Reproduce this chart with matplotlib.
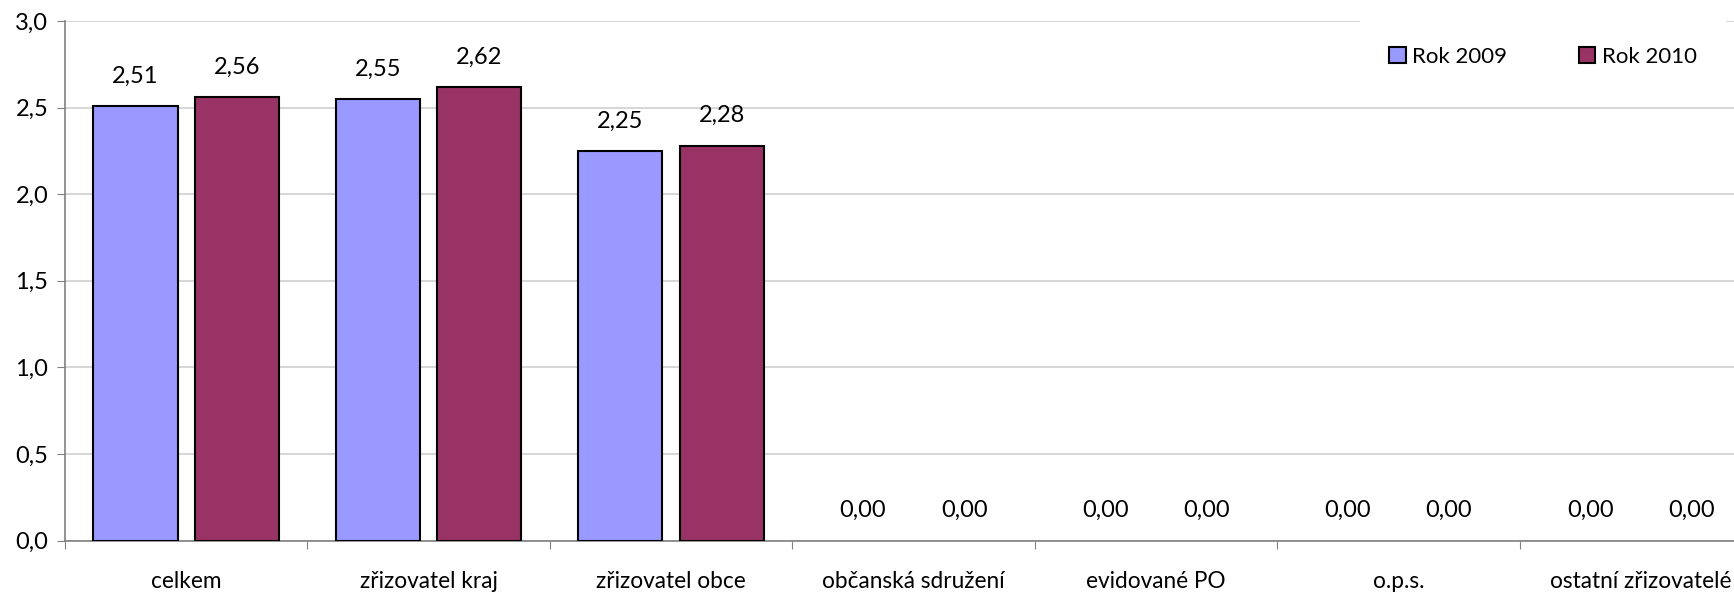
import numpy as np
import matplotlib.pyplot as plt
from matplotlib.ticker import FuncFormatter

plt.rcParams.update({
    "font.family": ["Lato", "DejaVu Sans"],
    "font.size": 17,
})

categories = ["celkem", "zřizovatel kraj", "zřizovatel obce", "občanská sdružení",
              "evidované PO", "o.p.s.", "ostatní zřizovatelé"]
rok_2009 = [2.51, 2.55, 2.25, 0.00, 0.00, 0.00, 0.00]
rok_2010 = [2.56, 2.62, 2.28, 0.00, 0.00, 0.00, 0.00]
series_names = ["Rok 2009", "Rok 2010"]

W, H = 1734, 592
fig = plt.figure(figsize=(W / 100, H / 100), dpi=100)
ax = fig.add_axes([65 / W, 51.4 / H, 1697 / W, 519.6 / H])

x = np.arange(len(categories))
bw = 0.347
off = 0.209
b1 = ax.bar(x - off, rok_2009, bw, color="#9999FF", edgecolor="black", linewidth=1.5,
            label=series_names[0], zorder=3)
b2 = ax.bar(x + off, rok_2010, bw, color="#993366", edgecolor="black", linewidth=1.5,
            label=series_names[1], zorder=3)

fmt = lambda v: f"{v:.2f}".replace(".", ",")
for bars in (b1, b2):
    for r in bars:
        v = r.get_height()
        if v == 0:
            r.set_linewidth(0)  # Excel draws nothing for zero-height bars
        ax.annotate(fmt(v), (r.get_x() + r.get_width() / 2, v), xytext=(0, 14),
                    textcoords="offset points", ha="center", va="bottom", fontsize=17)

ax.set_xlim(-0.5, len(categories) - 0.5)
ax.set_ylim(0, 3.0)
ax.set_yticks(np.arange(0, 3.01, 0.5))
ax.yaxis.set_major_formatter(FuncFormatter(lambda v, p: f"{v:.1f}".replace(".", ",")))
ax.grid(axis="y", color="#D0D0D0", linewidth=1.2, zorder=0)
ax.set_axisbelow(True)

# category labels centred, ticks between categories
ax.set_xticks(np.arange(-0.5, len(categories), 1.0))
ax.set_xticklabels([])
ax.set_xticks(x, minor=True)
ax.set_xticklabels(categories, minor=True)
ax.tick_params(axis="x", which="minor", length=0, pad=22, labelsize=16.3)
ax.tick_params(axis="x", which="major", length=6, color="#808080", direction="out")
ax.tick_params(axis="y", length=6, color="#808080", direction="out", pad=6, labelsize=17)

for s in ("top", "right"):
    ax.spines[s].set_visible(False)
for s in ("left", "bottom"):
    ax.spines[s].set_color("#808080")
    ax.spines[s].set_linewidth(1.2)

leg = ax.legend(loc="center", bbox_to_anchor=(1543 / W, 1 - 57 / H), bbox_transform=fig.transFigure,
                ncol=2, frameon=True, facecolor="white", edgecolor="none", framealpha=1,
                fancybox=False, handlelength=0.75, handleheight=0.75, handletextpad=0.3,
                columnspacing=3.2, borderpad=1.3, fontsize=16)
leg.set_zorder(5)

fig.savefig("out.png", dpi=100)
